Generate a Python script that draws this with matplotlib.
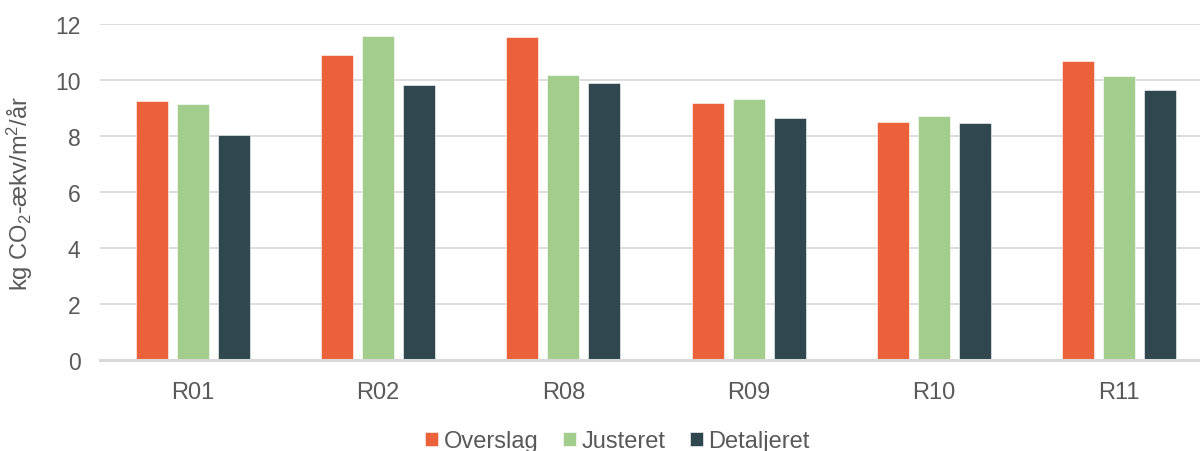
import numpy as np
import matplotlib
matplotlib.use("Agg")
import matplotlib.pyplot as plt

plt.rcParams['font.family'] = ['Liberation Sans', 'DejaVu Sans']
plt.rcParams['mathtext.fontset'] = 'custom'
plt.rcParams['mathtext.rm'] = 'Liberation Sans'
plt.rcParams['mathtext.it'] = 'Liberation Sans'

categories = ["R01", "R02", "R08", "R09", "R10", "R11"]
series_names = ["Overslag", "Justeret", "Detaljeret"]
overslag = [9.26, 10.90, 11.52, 9.17, 8.49, 10.67]
justeret = [9.15, 11.58, 10.18, 9.33, 8.73, 10.14]
detaljeret = [8.02, 9.81, 9.88, 8.64, 8.48, 9.63]
colors = ["#EB613A", "#A3CD8C", "#31474F"]
yticks = [0, 2, 4, 6, 8, 10, 12]

W, H = 1200, 452
fig = plt.figure(figsize=(W / 100, H / 100), dpi=100)
ax = fig.add_axes([100 / W, 1 - 361 / H, 1112 / W, 336 / H])

x = np.arange(len(categories))
width = 0.173
step = 0.221
for i, (vals, name, col) in enumerate(zip([overslag, justeret, detaljeret], series_names, colors)):
    ax.bar(x + (i - 1) * step, vals, width, color=col, label=name,
           edgecolor="white", linewidth=0.4, zorder=3)

ax.set_xlim(-0.5, len(categories) - 0.5)
ax.set_ylim(0, 12)
ax.set_yticks(yticks)
ax.set_xticks(x)
ax.set_xticklabels(categories)
ax.yaxis.grid(True, color="#D9D9D9", linewidth=1.3, zorder=0)
ax.set_axisbelow(True)
for s in ["top", "right", "left"]:
    ax.spines[s].set_visible(False)
ax.spines["bottom"].set_color("#D9D9D9")
ax.spines["bottom"].set_linewidth(2.2)
ax.spines["bottom"].set_zorder(4)
ax.tick_params(axis="both", length=0, colors="#595959")
ax.tick_params(axis="y", pad=14, labelsize=16.5)
ax.tick_params(axis="x", pad=15, labelsize=17)

ax.set_ylabel("kg CO$_2$-ækv/m$^2$/år", fontsize=17, color="#595959")
ax.yaxis.set_label_coords(-65 / 1112, 0.5)

leg = fig.legend(loc="center", bbox_to_anchor=(617.5 / W, 1 - 442 / H), ncol=3,
                 frameon=False, fontsize=17, handlelength=0.55, handleheight=0.55,
                 handletextpad=0.22, columnspacing=1.05)
for t in leg.get_texts():
    t.set_color("#595959")

fig.savefig("out.png", dpi=100)
